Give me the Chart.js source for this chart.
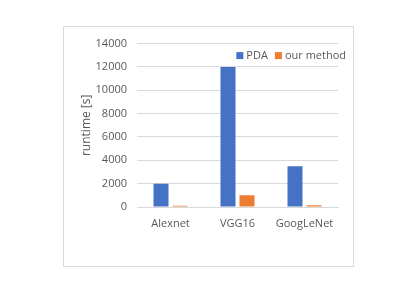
<!DOCTYPE html>
<html>
<head>
<meta charset="utf-8">
<script src="https://cdn.jsdelivr.net/npm/chart.js@4"></script>
<style>
  html, body { margin: 0; padding: 0; background: #fff; }
  body { width: 415px; height: 294px; position: relative; overflow: hidden; }
  #box {
    position: absolute; left: 63px; top: 26px; width: 291px; height: 241px;
    border: 1px solid #d9d9d9; box-sizing: border-box; background: #fff;
  }
</style>
</head>
<body>
<div id="box"><canvas id="chart"></canvas></div>
<script>
// data
const categories = ["Alexnet", "VGG16", "GoogLeNet"];
const pdaValues = [2000, 12000, 3500];
const ourValues = [100, 1000, 150];
const seriesNames = ["PDA", "our method"];
const yTicks = [0, 2000, 4000, 6000, 8000, 10000, 12000, 14000];

const FONT = "'Open Sans', 'Liberation Sans', sans-serif";
const TXT = "#595959";

// legend drawn inside the plot, top right, like the original
const innerLegend = {
  id: "innerLegend",
  afterDraw(chart) {
    const ctx = chart.ctx;
    const area = chart.chartArea;
    ctx.save();
    ctx.font = "11px " + FONT;
    ctx.textBaseline = "middle";
    const y = area.top + 12;
    const items = chart.data.datasets.map(d => ({ text: d.label, color: d.backgroundColor }));
    let total = 0;
    items.forEach((it, i) => { total += 7 + 3 + ctx.measureText(it.text).width + (i < items.length - 1 ? 7 : 0); });
    let x = area.right + 8 - total;
    items.forEach(it => {
      ctx.fillStyle = it.color;
      ctx.fillRect(x, y - 3.5, 7, 7);
      x += 10;
      ctx.fillStyle = TXT;
      ctx.fillText(it.text, x, y);
      x += ctx.measureText(it.text).width + 7;
    });
    ctx.restore();
  }
};

new Chart(document.getElementById("chart"), {
  type: "bar",
  data: {
    labels: categories,
    datasets: [
      { label: seriesNames[0], data: pdaValues, backgroundColor: "#4472C4" },
      { label: seriesNames[1], data: ourValues, backgroundColor: "#ED7D31" }
    ]
  },
  options: {
    responsive: true,
    maintainAspectRatio: false,
    animation: false,
    categoryPercentage: 0.567,
    barPercentage: 0.79,
    layout: { padding: { left: 15, right: 15, top: 14, bottom: 34 } },
    plugins: { legend: { display: false }, tooltip: { enabled: false } },
    scales: {
      x: {
        grid: { display: false },
        border: { color: "#d9d9d9" },
        ticks: { color: TXT, font: { family: FONT, size: 11 }, padding: 2 },
        afterFit(s) { s.height = 25; }
      },
      y: {
        min: 0,
        max: 14000,
        afterBuildTicks(s) { s.ticks = yTicks.map(v => ({ value: v })); },
        grid: { color: "#d9d9d9", drawTicks: false },
        border: { display: false },
        ticks: { color: TXT, font: { family: FONT, size: 11 }, padding: 10, callback: v => String(v) },
        title: { display: true, text: "runtime [s]", color: TXT, font: { family: FONT, size: 12 }, padding: 0 },
        afterFit(s) { s.width = 58; }
      }
    }
  },
  plugins: [innerLegend]
});
</script>
</body>
</html>
